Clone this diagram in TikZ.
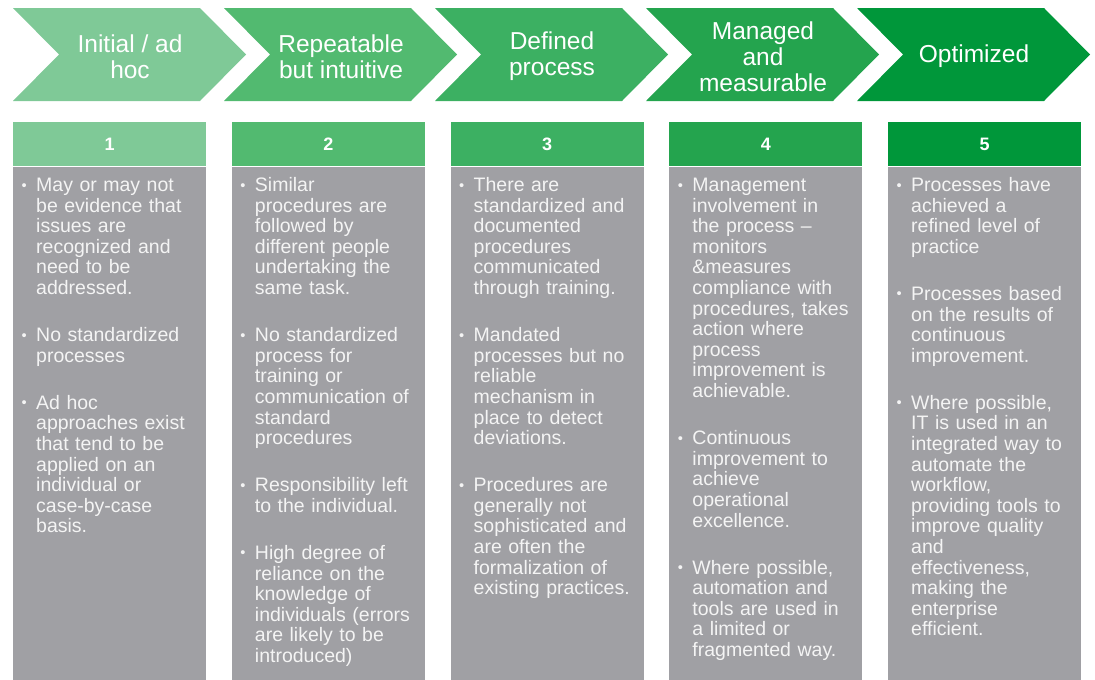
\documentclass[tikz,border=0pt]{standalone}
\usepackage{fontspec}
\setmainfont{Liberation Sans}
\usepackage{graphicx}
\usetikzlibrary{positioning}
\definecolor{lvone}{HTML}{7FC997}
\definecolor{lvtwo}{HTML}{52BA70}
\definecolor{lvthree}{HTML}{3CB062}
\definecolor{lvfour}{HTML}{24A44E}
\definecolor{lvfive}{HTML}{00973A}
\definecolor{greycol}{HTML}{A0A0A4}
\definecolor{paletext}{HTML}{F4F4F4}
\tikzstyle{chev}=[text=white, align=center, inner sep=0pt, font=\fontsize{24.5}{26}\selectfont]
\tikzstyle{hdr}=[rectangle, anchor=north west, minimum width=193pt, minimum height=44pt, inner sep=0pt,
        text=white, font=\fontsize{18}{20}\selectfont\bfseries]
\tikzstyle{col}=[rectangle, fill=greycol, anchor=north west, minimum width=193pt, minimum height=514pt, inner sep=0pt]
\tikzstyle{items}=[anchor=base west, text width=200pt, align=left, inner sep=0pt, text=paletext,
        font=\fontsize{19.5}{20.6}\selectfont]
\newcommand{\bul}{\makebox[14.5pt][l]{\raisebox{1.5pt}{\scalebox{0.75}{\textbullet}}}}
\newcommand{\ind}{\hspace*{14.5pt}}
\newcommand{\gap}{\\[26.5pt]}

\begin{document}
\begin{tikzpicture}[x=1pt, y=-1pt]
\useasboundingbox (0,0) rectangle (1095,680);

% chevrons
\fill[lvone] (13,8) -- ++(187,0) -- ++(46,46.5) -- ++(-46,46.5) -- ++(-187,0) -- ++(46,-46.5) -- cycle;
\fill[lvtwo] (224,8) -- ++(187,0) -- ++(46,46.5) -- ++(-46,46.5) -- ++(-187,0) -- ++(46,-46.5) -- cycle;
\fill[lvthree] (435,8) -- ++(187,0) -- ++(46,46.5) -- ++(-46,46.5) -- ++(-187,0) -- ++(46,-46.5) -- cycle;
\fill[lvfour] (646,8) -- ++(187,0) -- ++(46,46.5) -- ++(-46,46.5) -- ++(-187,0) -- ++(46,-46.5) -- cycle;
\fill[lvfive] (857,8) -- ++(187,0) -- ++(46,46.5) -- ++(-46,46.5) -- ++(-187,0) -- ++(46,-46.5) -- cycle;
\node[chev] (s1) at (130,56.5) {Initial / ad\\hoc};
\node[chev] (s2) at (341,56.5) {Repeatable\\but intuitive};
\node[chev] (s3) at (552,56.5) {Defined\\process};
\node[chev] (s4) at (763,56.5) {Managed\\and\\measurable};
\node[chev] (s5) at (974,56.5) {Optimized};

% level headers and columns
\node[hdr, fill=lvone] (h1) at (13,122) {1};
\node[hdr, fill=lvtwo] (h2) at (231.75,122) {2};
\node[hdr, fill=lvthree] (h3) at (450.5,122) {3};
\node[hdr, fill=lvfour] (h4) at (669.25,122) {4};
\node[hdr, fill=lvfive] (h5) at (888,122) {5};
\node[col] (c1) at (h1.south west) {};
\node[col] (c2) at (h2.south west) {};
\node[col] (c3) at (h3.south west) {};
\node[col] (c4) at (h4.south west) {};
\node[col] (c5) at (h5.south west) {};

\node[items] (t1) at (21.5,191.5) {\bul May or may not\\\ind be evidence that\\\ind issues are\\\ind recognized and\\\ind need to be\\\ind addressed.\gap
\bul No standardized\\\ind processes\gap
\bul Ad hoc\\\ind approaches exist\\\ind that tend to be\\\ind applied on an\\\ind individual or\\\ind case-by-case\\\ind basis.};

\node[items] (t2) at (240.25,191.5) {\bul Similar\\\ind procedures are\\\ind followed by\\\ind different people\\\ind undertaking the\\\ind same task.\gap
\bul No standardized\\\ind process for\\\ind training or\\\ind communication of\\\ind standard\\\ind procedures\gap
\bul Responsibility left\\\ind to the individual.\gap
\bul High degree of\\\ind reliance on the\\\ind knowledge of\\\ind individuals (errors\\\ind are likely to be\\\ind introduced)};

\node[items] (t3) at (459,191.5) {\bul There are\\\ind standardized and\\\ind documented\\\ind procedures\\\ind communicated\\\ind through training.\gap
\bul Mandated\\\ind processes but no\\\ind reliable\\\ind mechanism in\\\ind place to detect\\\ind deviations.\gap
\bul Procedures are\\\ind generally not\\\ind sophisticated and\\\ind are often the\\\ind formalization of\\\ind existing practices.};

\node[items] (t4) at (677.75,191.5) {\bul Management\\\ind involvement in\\\ind the process --\\\ind monitors\\\ind \&measures\\\ind compliance with\\\ind procedures, takes\\\ind action where\\\ind process\\\ind improvement is\\\ind achievable.\gap
\bul Continuous\\\ind improvement to\\\ind achieve\\\ind operational\\\ind excellence.\gap
\bul Where possible,\\\ind automation and\\\ind tools are used in\\\ind a limited or\\\ind fragmented way.};

\node[items] (t5) at (896.5,191.5) {\bul Processes have\\\ind achieved a\\\ind refined level of\\\ind practice\gap
\bul Processes based\\\ind on the results of\\\ind continuous\\\ind improvement.\gap
\bul Where possible,\\\ind IT is used in an\\\ind integrated way to\\\ind automate the\\\ind workflow,\\\ind providing tools to\\\ind improve quality\\\ind and\\\ind effectiveness,\\\ind making the\\\ind enterprise\\\ind efficient.};

\end{tikzpicture}
\end{document}
